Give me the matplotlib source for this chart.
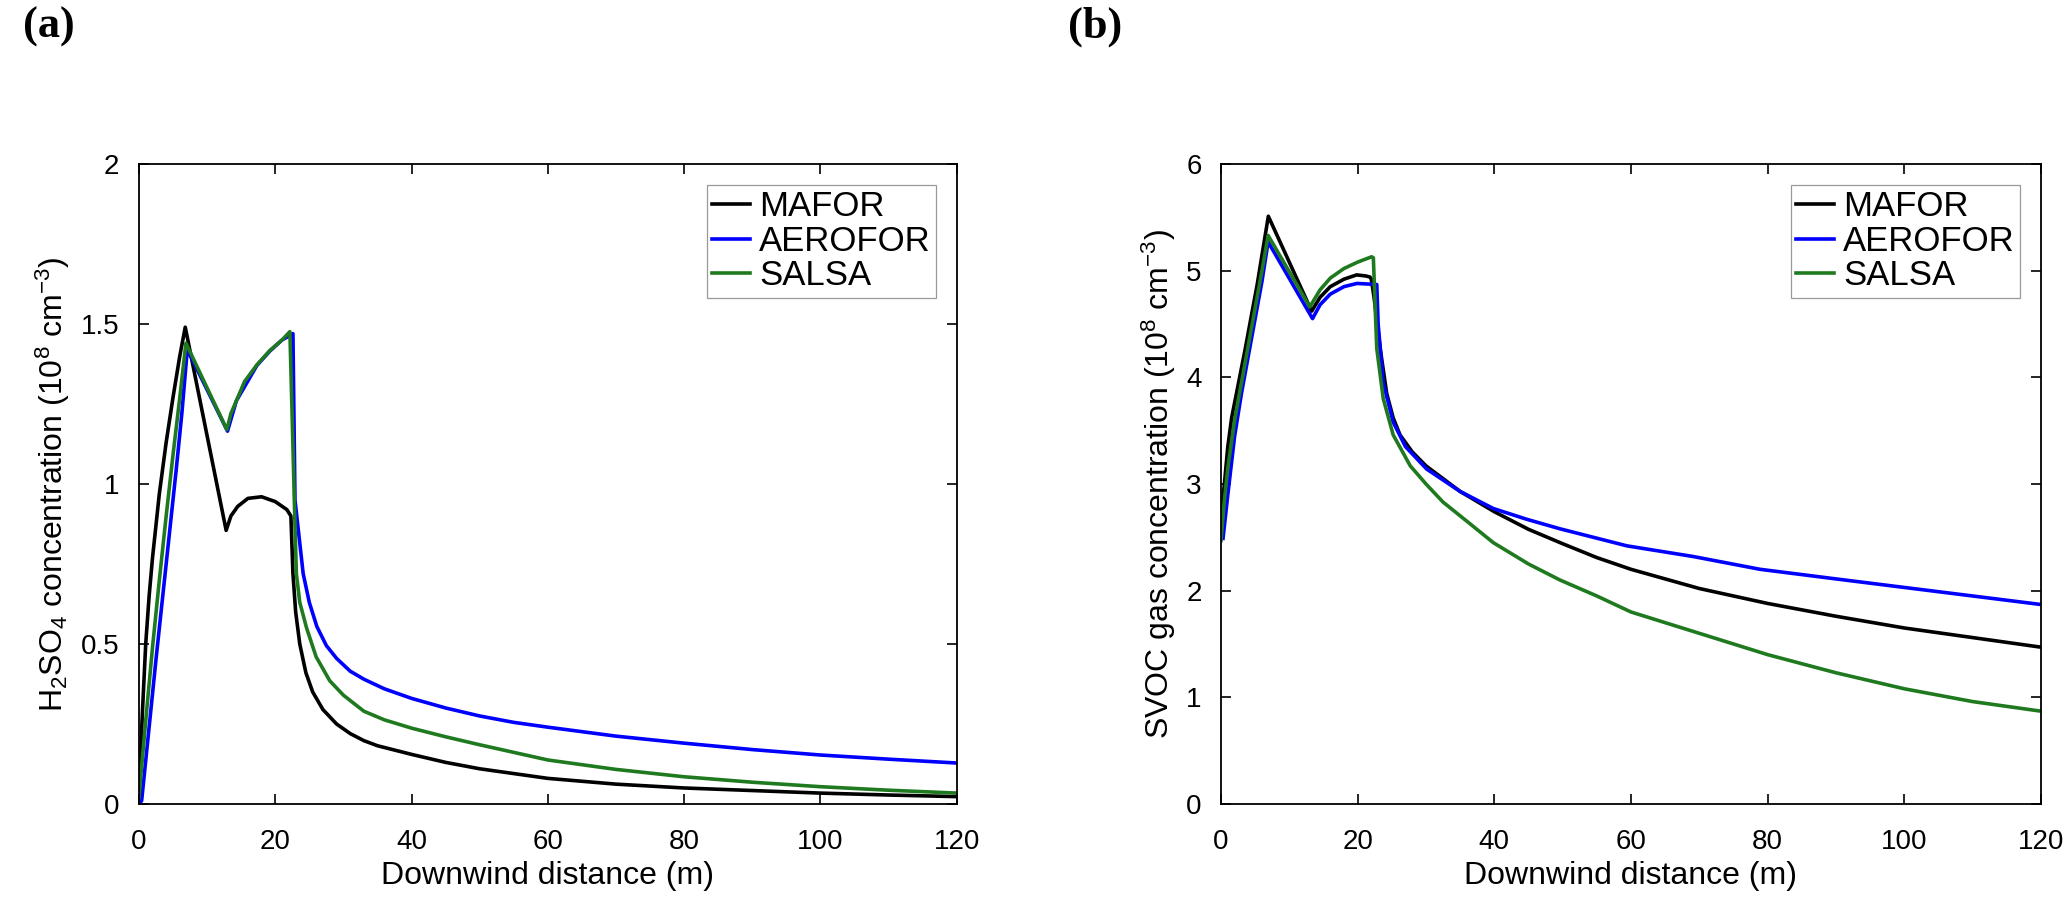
import numpy as np
import matplotlib
matplotlib.use("Agg")
import matplotlib.pyplot as plt

plt.rcParams['font.family'] = ['Liberation Sans', 'DejaVu Sans']
plt.rcParams['mathtext.default'] = 'regular'

models = ['MAFOR', 'AEROFOR', 'SALSA']
colors = ['#000000', '#0000ff', '#1f7a1f']

# (a) H2SO4 concentration, 1e8 cm-3
h2so4_mafor_x = [0, 0.5, 1, 1.5, 2, 3, 4, 5, 6, 6.8, 12.8, 13.5, 14.5, 16, 18, 20, 21.7, 22.3, 22.6,
                 23.0, 23.6, 24.5, 25.5, 27, 29, 31, 33, 35, 40, 45, 50, 60, 70, 80, 90, 100, 110, 120]
h2so4_mafor_y = [0.02, 0.28, 0.5, 0.65, 0.77, 0.97, 1.13, 1.27, 1.4, 1.49, 0.855, 0.90, 0.93, 0.955,
                 0.96, 0.945, 0.92, 0.90, 0.72, 0.60, 0.50, 0.41, 0.35, 0.295, 0.25, 0.22, 0.198,
                 0.182, 0.155, 0.13, 0.11, 0.08, 0.062, 0.05, 0.042, 0.034, 0.028, 0.023]
h2so4_aerofor_x = [0, 0.4, 1.5, 2.5, 3.5, 4.5, 5.5, 6.3, 7.1, 13.0, 14.3, 17.3, 19.2, 21, 22.6, 22.9,
                   24.1, 25, 26.1, 27.5, 29, 31, 33, 36, 40, 45, 50, 55, 60, 70, 80, 90, 100, 110, 120]
h2so4_aerofor_y = [0.0, 0.01, 0.24, 0.45, 0.65, 0.85, 1.05, 1.22, 1.42, 1.165, 1.26, 1.37, 1.415, 1.45,
                   1.47, 0.95, 0.72, 0.63, 0.555, 0.495, 0.455, 0.415, 0.39, 0.36, 0.33, 0.30, 0.275,
                   0.255, 0.24, 0.212, 0.19, 0.17, 0.153, 0.14, 0.128]
h2so4_salsa_x = [0, 1, 2, 3, 4, 5, 6, 6.9, 12.9, 13.5, 14.3, 15.5, 17.3, 19.2, 21, 22.15, 22.5, 22.8,
                 23.1, 23.6, 24.6, 26, 28, 30, 33, 36, 40, 45, 50, 60, 70, 80, 90, 100, 110, 120]
h2so4_salsa_y = [0.02, 0.26, 0.49, 0.70, 0.90, 1.09, 1.27, 1.44, 1.17, 1.22, 1.26, 1.32, 1.372, 1.417,
                 1.45, 1.476, 1.2, 0.95, 0.72, 0.63, 0.55, 0.46, 0.385, 0.34, 0.29, 0.263, 0.237, 0.21,
                 0.185, 0.1375, 0.108, 0.085, 0.068, 0.054, 0.043, 0.034]

# (b) SVOC gas concentration, 1e8 cm-3
svoc_mafor_x = [0, 0.5, 1, 1.56, 3.5, 5.3, 6.93, 13.27, 14.5, 16, 18, 19.86, 21.2, 21.8, 22.0, 22.4,
                23.3, 24.25, 25.2, 26.2, 28, 30, 35, 40, 45, 50, 55, 60, 70, 80, 90, 100, 110, 120]
svoc_mafor_y = [2.69, 3.0, 3.35, 3.62, 4.25, 4.87, 5.51, 4.62, 4.75, 4.85, 4.92, 4.96, 4.95, 4.94,
                4.92, 4.75, 4.27, 3.85, 3.62, 3.46, 3.30, 3.17, 2.93, 2.74, 2.575, 2.44, 2.31, 2.20,
                2.02, 1.88, 1.76, 1.65, 1.56, 1.47]
svoc_aerofor_x = [0.3, 1, 2, 3, 4, 5, 6, 6.9, 13.4, 14.5, 16, 18, 19.9, 22.8, 23.0, 23.75, 25.2, 27,
                  30.1, 35, 39.85, 44.7, 49.6, 59.4, 69.1, 78.9, 90, 100, 110, 120]
svoc_aerofor_y = [2.49, 2.9, 3.45, 3.85, 4.2, 4.55, 4.9, 5.27, 4.55, 4.68, 4.78, 4.85, 4.88, 4.87,
                  4.5, 3.95, 3.58, 3.35, 3.14, 2.93, 2.77, 2.67, 2.58, 2.42, 2.32, 2.20, 2.11, 2.03,
                  1.95, 1.87]
svoc_salsa_x = [0, 0.5, 1, 2, 3, 4, 5, 6, 6.9, 13.0, 14.5, 16, 18, 20, 22.05, 22.3, 22.6, 22.8, 23.75,
                25.2, 27.7, 30, 32.5, 36, 39.85, 45, 49.6, 55, 60, 70, 80, 90, 100, 110, 120]
svoc_salsa_y = [2.47, 2.85, 3.15, 3.6, 3.95, 4.3, 4.65, 5.0, 5.33, 4.66, 4.82, 4.93, 5.02, 5.08, 5.13,
                5.12, 4.6, 4.27, 3.80, 3.46, 3.17, 3.0, 2.83, 2.65, 2.45, 2.25, 2.10, 1.95, 1.80,
                1.60, 1.40, 1.23, 1.08, 0.96, 0.87]

xticks = [0, 20, 40, 60, 80, 100, 120]
h2so4_ticks = [0, 0.5, 1, 1.5, 2]
h2so4_ticklabels = ['0', '0.5', '1', '1.5', '2']
svoc_ticks = [0, 1, 2, 3, 4, 5, 6]

fig = plt.figure(figsize=(20.67, 8.97), dpi=100)
ax1 = fig.add_axes([0.0672, 0.1037, 0.3957, 0.7135])
ax2 = fig.add_axes([0.5907, 0.1037, 0.3967, 0.7135])

data = [
    (ax1, [(h2so4_mafor_x, h2so4_mafor_y), (h2so4_aerofor_x, h2so4_aerofor_y),
           (h2so4_salsa_x, h2so4_salsa_y)]),
    (ax2, [(svoc_mafor_x, svoc_mafor_y), (svoc_aerofor_x, svoc_aerofor_y),
           (svoc_salsa_x, svoc_salsa_y)]),
]

for ax, series in data:
    for (x, y), name, c in zip(series, models, colors):
        ax.plot(x, y, color=c, lw=2.6, label=name)
    ax.set_xlim(0, 120)
    ax.set_xticks(xticks)
    ax.tick_params(direction='in', top=True, right=True, length=7, width=1.2,
                   labelsize=20)
    ax.tick_params(axis='x', pad=18)
    ax.tick_params(axis='y', pad=14)
    for s in ax.spines.values():
        s.set_linewidth(1.3)
    ax.set_xlabel('Downwind distance (m)', fontsize=23, labelpad=4)
    leg = ax.legend(loc='upper right', fontsize=25, frameon=True, fancybox=False,
                    borderpad=0.15, handlelength=1.1, handletextpad=0.25,
                    labelspacing=0.05, borderaxespad=0.6)
    leg.get_frame().set_edgecolor('#808080')
    leg.get_frame().set_linewidth(0.9)

ax1.set_ylim(0, 2)
ax1.set_yticks(h2so4_ticks)
ax1.set_yticklabels(h2so4_ticklabels)
ax1.set_ylabel('H$_2$SO$_4$ concentration (10$^8$ cm$^{-3}$)', fontsize=23, labelpad=6)

ax2.set_ylim(0, 6)
ax2.set_yticks(svoc_ticks)
ax2.set_ylabel('SVOC gas concentration (10$^8$ cm$^{-3}$)', fontsize=23, labelpad=6)

fig.text(0.0111, 0.9587, '(a)', fontsize=32, fontweight='bold',
         family=['Liberation Serif', 'DejaVu Serif'], va='baseline')
fig.text(0.5167, 0.9587, '(b)', fontsize=32, fontweight='bold',
         family=['Liberation Serif', 'DejaVu Serif'], va='baseline')

fig.savefig('out.png', dpi=100)
